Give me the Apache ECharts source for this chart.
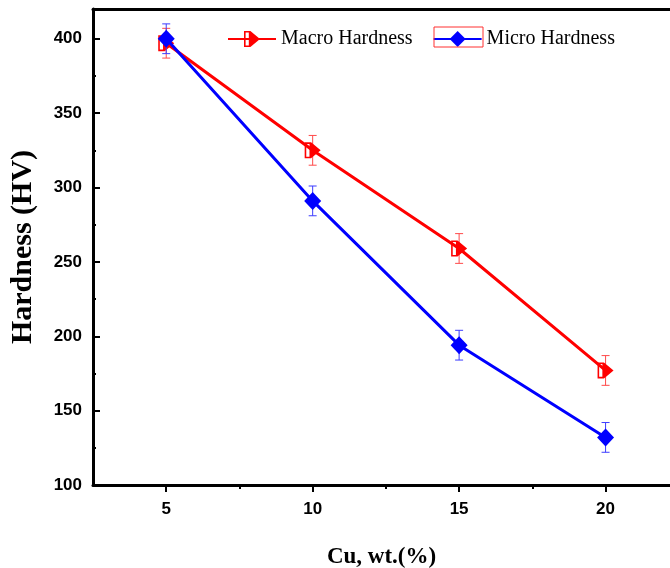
<!DOCTYPE html>
<html>
<head>
<meta charset="utf-8">
<script src="https://cdn.jsdelivr.net/npm/echarts@6/dist/echarts.min.js"></script>
<style>
  html, body { margin: 0; padding: 0; background: #fff; }
  #chart { width: 670px; height: 568px; }
</style>
</head>
<body>
<div id="chart"></div>
<script>
var cuContent = [5, 10, 15, 20];
var macroHardness = [397, 325, 259, 177];
var macroError = [10, 10, 10, 10];
var microHardness = [400, 291, 194, 132];
var microError = [10, 10, 10, 10];
var xTickValues = [5, 10, 15, 20];
var xMinorTickValues = [7.5, 12.5, 17.5];
var yTickValues = [100, 150, 200, 250, 300, 350, 400];
var yMinorTickValues = [125, 175, 225, 275, 325, 375];

var myChart = echarts.init(document.getElementById("chart"));

// right-pointing triangle with hollow left half (Origin style)
var halfTriangle = "path://M0,0 L4,0 L4,10 L0,10 Z M1,1 L1,9 L3,9 L3,1 Z M4,0 L10,5 L4,10 Z";

function pairs(xs, ys, errs) {
  return xs.map(function (x, i) {
    return errs ? [x, ys[i], errs[i]] : [x, ys[i]];
  });
}

function errorBar(color) {
  return function (params, api) {
    var x = api.value(0);
    var y = api.value(1);
    var e = api.value(2);
    var top = api.coord([x, y + e]);
    var bottom = api.coord([x, y - e]);
    var cap = 4;
    var style = { stroke: color, lineWidth: 1 };
    return {
      type: "group",
      children: [
        { type: "line", shape: { x1: top[0], y1: top[1], x2: bottom[0], y2: bottom[1] }, style: style },
        { type: "line", shape: { x1: top[0] - cap, y1: top[1], x2: top[0] + cap, y2: top[1] }, style: style },
        { type: "line", shape: { x1: bottom[0] - cap, y1: bottom[1], x2: bottom[0] + cap, y2: bottom[1] }, style: style },
      ],
    };
  };
}

var option = {
  backgroundColor: "#fff",
  animation: false,
  grid: { left: 93, top: 9, right: 0, bottom: 83, outerBoundsMode: "none", containLabel: false },
  legend: {
    left: 222,
    top: 24,
    itemWidth: 48,
    itemHeight: 20,
    itemGap: 20,
    data: ["Macro Hardness", "Micro Hardness"],
    textStyle: { fontFamily: "Liberation Serif", fontSize: 20, color: "#000" },
  },
  xAxis: [
    {
      type: "value",
      min: 2.5,
      max: 22.2,
      interval: 2.5,
      name: "Cu, wt.(%)",
      nameLocation: "middle",
      nameGap: 61,
      nameTextStyle: { fontFamily: "Liberation Serif", fontWeight: "bold", fontSize: 23, color: "#000" },
      axisLine: { lineStyle: { color: "#000", width: 3 } },
      axisTick: { customValues: xTickValues, length: 7, lineStyle: { width: 2, color: "#000" } },
      axisLabel: {
        customValues: xTickValues,
        margin: 16,
        fontFamily: "Liberation Sans",
        fontWeight: "bold",
        fontSize: 17,
        color: "#000",
      },
      splitLine: { show: false },
    },
    {
      type: "value",
      min: 2.5,
      max: 22.2,
      interval: 2.5,
      position: "bottom",
      axisLine: { show: false },
      axisTick: { customValues: xMinorTickValues, length: 4, lineStyle: { width: 2, color: "#000" } },
      axisLabel: { show: false },
      splitLine: { show: false },
    },
    {
      type: "value",
      min: 2.5,
      max: 22.2,
      position: "top",
      axisLine: { lineStyle: { color: "#000", width: 3 } },
      axisTick: { show: false },
      axisLabel: { show: false },
      splitLine: { show: false },
    },
  ],
  yAxis: [
    {
      type: "value",
      min: 100,
      max: 420,
      interval: 50,
      name: "Hardness (HV)",
      nameLocation: "middle",
      nameGap: 55,
      nameTextStyle: { fontFamily: "Liberation Serif", fontWeight: "bold", fontSize: 30, color: "#000" },
      axisLine: { lineStyle: { color: "#000", width: 3 } },
      axisTick: { inside: true, customValues: yTickValues, length: 7, lineStyle: { width: 2, color: "#000" } },
      axisLabel: {
        customValues: yTickValues,
        margin: 11,
        fontFamily: "Liberation Sans",
        fontWeight: "bold",
        fontSize: 17,
        color: "#000",
      },
      splitLine: { show: false },
    },
    {
      type: "value",
      min: 100,
      max: 420,
      position: "left",
      axisLine: { show: false },
      axisTick: { inside: true, customValues: yMinorTickValues, length: 3, lineStyle: { width: 2, color: "#000" } },
      axisLabel: { show: false },
      splitLine: { show: false },
    },
  ],
  series: [
    {
      name: "Macro Hardness err",
      type: "custom",
      renderItem: errorBar("#ff4a4a"),
      data: pairs(cuContent, macroHardness, macroError),
      encode: { x: 0, y: 1 },
      z: 1,
    },
    {
      name: "Micro Hardness err",
      type: "custom",
      renderItem: errorBar("#3d3dff"),
      data: pairs(cuContent, microHardness, microError),
      encode: { x: 0, y: 1 },
      z: 3,
    },
    {
      name: "Macro Hardness",
      type: "line",
      data: pairs(cuContent, macroHardness),
      symbol: halfTriangle,
      symbolSize: [16, 16],
      symbolKeepAspect: false,
      color: "#ff0000",
      itemStyle: { color: "#ff0000" },
      lineStyle: { color: "#ff0000", width: 3 },
      z: 2,
    },
    {
      name: "Micro Hardness",
      type: "line",
      data: pairs(cuContent, microHardness),
      symbol: "diamond",
      symbolSize: [17, 18],
      color: "#0000ff",
      itemStyle: { color: "#0000ff" },
      lineStyle: { color: "#0000ff", width: 3 },
      z: 4,
    },
  ],
  graphic: [
    {
      type: "rect",
      shape: { x: 434, y: 27, width: 49, height: 20 },
      style: { fill: "none", stroke: "#ff3030", lineWidth: 1 },
      z: 10,
    },
  ],
};

myChart.setOption(option);
</script>
</body>
</html>
